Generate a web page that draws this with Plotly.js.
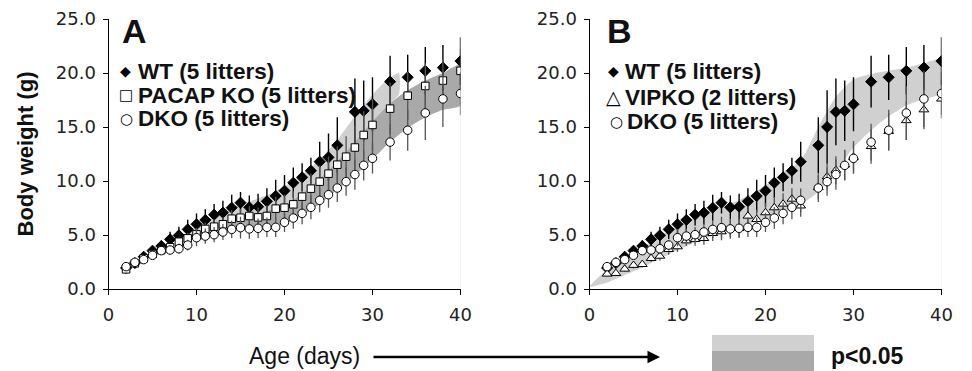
<!DOCTYPE html>
<html><head><meta charset="utf-8">
<script src="https://cdn.plot.ly/plotly-3.0.1.min.js"></script>
<style>html,body{margin:0;padding:0;background:#fff}#chart{width:972px;height:371px}</style>
</head><body><div id="chart"></div>
<script>
// ---------------- DATA ----------------
const days = [2,3,4,5,6,7,8,9,10,11,12,13,14,15,16,17,18,19,20,21,22,23,24,25,26,27,28,29,30,32,34,36,38,40];

const wt      = [1.95,2.4,2.99,3.55,3.98,4.6,4.97,5.52,5.99,6.39,6.88,7.07,7.53,7.99,7.56,7.62,8.12,8.61,9.1,9.84,10.34,10.95,11.79,12.19,13.3,15.0,16.4,16.5,17.1,19.2,19.6,20.2,20.5,21.1];
const wtErr   = [0.2,0.25,0.3,0.4,0.5,0.7,0.8,0.9,1.0,1.0,1.0,1.1,1.2,1.0,1.1,1.2,1.2,1.5,1.45,1.4,1.3,1.2,1.85,2.2,2.6,3.4,3.1,2.8,2.5,2.4,2.1,2.2,2.1,2.2];

const pacap    = [1.82,2.38,2.84,3.24,3.6,3.86,4.38,4.69,5.06,5.56,5.77,5.99,6.51,6.6,6.76,6.63,6.76,7.44,7.53,7.84,8.55,9.29,9.94,10.68,11.51,12.25,13.1,14.26,15.19,16.7,17.9,18.8,19.3,20.2];
const pacapErr = [0.15,0.2,0.25,0.3,0.35,0.4,0.45,0.5,0.6,0.6,0.7,0.7,0.8,0.8,0.9,0.9,1.0,1.1,1.2,1.2,1.3,1.4,1.5,1.6,1.7,1.9,2.0,2.2,2.4,2.4,2.2,2.1,2.0,2.0];

const dko    = [2.07,2.47,2.72,3.12,3.55,3.61,3.73,4.07,4.75,4.9,5.03,5.28,5.52,5.68,5.56,5.62,5.71,5.71,6.17,6.57,7.0,7.56,8.21,8.73,9.35,9.94,10.6,11.45,12.1,13.6,14.7,16.3,17.6,18.1];
const dkoErr = [0.2,0.2,0.25,0.3,0.35,0.4,0.45,0.5,0.8,0.7,0.7,0.75,0.8,1.0,0.9,0.9,0.9,0.9,0.9,1.0,1.0,1.1,1.1,1.2,1.3,1.3,1.4,1.4,1.4,1.7,1.9,2.5,2.6,2.0];

const vip    = [1.39,1.45,1.85,2.2,2.28,2.84,3.05,3.67,3.92,4.47,4.6,4.69,5.15,5.31,5.62,5.62,6.76,6.45,7.07,7.53,7.87,8.33,7.7,null,9.4,10.4,11.0,11.5,12.2,13.2,14.6,15.6,16.6,17.6];
const vipErr = [0.2,0.2,0.25,0.3,0.3,0.35,0.4,0.5,0.5,0.5,0.6,0.6,0.7,0.8,0.8,0.8,0.9,0.9,0.9,1.0,1.0,1.0,1.0,0,1.1,1.2,1.3,1.4,1.5,1.6,1.7,1.8,1.8,1.8];

// days not measured in each panel
const missingA = [27];
const missingB = [25];

// significance bands (p<0.05)
const bandALightX  = [8,10,12,14,16,18,20,22,24,26,28,30,32,33];
const bandALightHi = [4.6,5.8,6.8,7.6,8.1,8.7,9.5,10.6,12.0,13.8,16.0,18.0,19.6,20.0];
const bandALightLo = [4.0,4.8,5.5,6.2,6.7,7.1,7.6,8.6,9.9,11.5,13.3,15.3,17.2,18.0];

const bandADarkX  = [10,12,14,16,18,20,22,24,26,28,30,32,34,36,38,40];
const bandADarkHi = [5.2,5.9,6.5,6.9,7.2,7.8,8.8,10.2,11.8,13.6,15.5,17.2,18.4,19.3,20.0,20.8];
const bandADarkLo = [4.4,4.9,5.3,5.5,5.6,6.0,6.8,7.9,9.2,10.5,12.0,13.6,14.9,15.9,16.6,17.0];

const bandBX  = [0,2,4,6,8,10,12,14,16,18,20,22,24,26,28,30,32,34,36,38,40];
const bandBHi = [0.2,1.8,2.9,3.9,4.9,5.8,6.7,7.4,7.9,8.6,9.6,10.8,11.9,15.0,17.8,19.4,19.9,20.2,20.5,20.9,21.3];
const bandBLo = [0.2,0.6,1.3,2.0,2.8,3.6,4.3,4.9,5.4,6.0,6.4,7.0,7.8,9.0,10.9,13.1,14.7,16.0,17.0,17.6,18.1];

const xTicks = [0,10,20,30,40];
const yTicks = [0,5,10,15,20,25];

// ---------------- HELPERS ----------------
const W = 972, H = 371;
const px = v => v / W;
const py = v => 1 - v / H;
const drop = (arr, miss) => arr.map((v, i) => miss.includes(days[i]) ? null : v);

const LIGHT = '#d0d0d0', DARK = '#a9a9a9';

function band(x, hi, lo, color, xa, ya) {
  return {type:'scatter', mode:'lines', xaxis:xa, yaxis:ya,
    x: x.concat(x.slice().reverse()), y: hi.concat(lo.slice().reverse()),
    fill:'toself', fillcolor:color, line:{width:0, color:color, shape:'spline', smoothing:0.6},
    hoverinfo:'skip', showlegend:false};
}
function series(y, err, sym, fill, size, errColor, errThick, xa, ya, name) {
  return {type:'scatter', mode:'markers', name:name, xaxis:xa, yaxis:ya, x:days, y:y,
    marker:{symbol:sym, size:size, color:fill, line:{color:'#000', width:1}},
    error_y:{type:'data', array:err, visible:true, width:0, thickness:errThick, color:errColor},
    showlegend:false};
}

const traces = [
  band(bandALightX, bandALightHi, bandALightLo, LIGHT, 'x', 'y'),
  band(bandADarkX, bandADarkHi, bandADarkLo, DARK, 'x', 'y'),
  series(drop(wt, missingA), wtErr, 'diamond', '#000', 8.5, '#000', 1.4, 'x', 'y', 'WT'),
  series(pacap, pacapErr, 'square', '#fff', 7.5, '#555', 1.3, 'x', 'y', 'PACAP KO'),
  series(dko, dkoErr, 'circle', '#fff', 8.5, '#555', 1.3, 'x', 'y', 'DKO'),

  band(bandBX, bandBHi, bandBLo, LIGHT, 'x2', 'y2'),
  series(drop(wt, missingB), wtErr, 'diamond', '#000', 8.5, '#000', 1.4, 'x2', 'y2', 'WT'),
  series(vip, vipErr, 'triangle-up', '#fff', 8.5, '#555', 1.3, 'x2', 'y2', 'VIPKO'),
  series(drop(dko, missingB), dkoErr, 'circle', '#fff', 8.5, '#555', 1.3, 'x2', 'y2', 'DKO')
];

const tickFont = {family:'DejaVu Sans, Liberation Sans, sans-serif', size:18, color:'#222'};
function xAxis(dom, anchor) {
  return {domain:dom, anchor:anchor, range:[0,40], tickvals:xTicks, ticktext:xTicks.map(String),
    ticks:'outside', ticklen:5, tickcolor:'#000', tickwidth:1, showline:true, linecolor:'#000', linewidth:1,
    showgrid:false, zeroline:false, tickfont:tickFont, ticklabelstandoff:4, fixedrange:true};
}
function yAxis(anchor, withTitle) {
  const a = {domain:[py(289), py(19)], anchor:anchor, range:[0,25], tickvals:yTicks, tickformat:'.1f',
    ticks:'outside', ticklen:5, tickcolor:'#000', tickwidth:1, showline:true, linecolor:'#000', linewidth:1,
    showgrid:false, zeroline:false, tickfont:tickFont, ticklabelstandoff:3, fixedrange:true};
  if (withTitle) a.title = {text:'<b>Body weight (g)</b>', font:{family:'Liberation Sans, Arial, sans-serif', size:22, color:'#111'}, standoff:16};
  return a;
}

const legFont = {family:'Liberation Sans, Arial, sans-serif', size:22.5, color:'#111'};
const symFont = s => ({family:'DejaVu Sans, sans-serif', size:s, color:'#000'});
function ann(text, x, y, font, xanchor) {
  return {text:text, x:px(x), y:py(y), xref:'paper', yref:'paper', xanchor:xanchor||'left', yanchor:'middle', showarrow:false, font:font};
}

const annotations = [
  ann('<b>A</b>', 120, 31, {family:'Liberation Sans, Arial, sans-serif', size:34, color:'#111'}),
  ann('<b>B</b>', 605, 31, {family:'Liberation Sans, Arial, sans-serif', size:34, color:'#111'}),

  ann('◆', 125, 71, symFont(14), 'center'),
  ann('<b>WT (5 litters)</b>', 136, 71, legFont),
  ann('□', 126, 95, symFont(15), 'center'),
  ann('<b>PACAP KO (5 litters)</b>', 136, 95, legFont),
  ann('○', 126, 119, symFont(15), 'center'),
  ann('<b>DKO (5 litters)</b>', 136, 119, legFont),

  ann('◆', 613, 71, symFont(14), 'center'),
  ann('<b>WT (5 litters)</b>', 623, 71, legFont),
  ann('△', 613, 97, symFont(19), 'center'),
  ann('<b>VIPKO (2 litters)</b>', 623, 97, legFont),
  ann('○', 616, 122, symFont(15), 'center'),
  ann('<b>DKO (5 litters)</b>', 625, 122, legFont),

  ann('Age (days)', 304, 356, {family:'Liberation Sans, Arial, sans-serif', size:23, color:'#111'}, 'center'),
  ann('<b>p&lt;0.05</b>', 829, 356, {family:'Liberation Sans, Arial, sans-serif', size:23, color:'#111'}),
  {x:px(660), y:py(357), xref:'paper', yref:'paper', ax:px(372), ay:py(357), axref:'paper', ayref:'paper',
   text:'', showarrow:true, arrowhead:2, arrowsize:1, arrowwidth:2.5, arrowcolor:'#000'}
];

const shapes = [
  {type:'rect', xref:'paper', yref:'paper', x0:px(712), x1:px(814), y0:py(351), y1:py(335), fillcolor:LIGHT, line:{width:0}},
  {type:'rect', xref:'paper', yref:'paper', x0:px(712), x1:px(814), y0:py(371), y1:py(351), fillcolor:DARK, line:{width:0}},
  {type:'line', xref:'x', yref:'y', x0:40, x1:40, y0:0, y1:16.9, line:{color:'#ececec', width:1}, layer:'below'},
  {type:'line', xref:'x2', yref:'y2', x0:40, x1:40, y0:0, y1:18, line:{color:'#ececec', width:1}, layer:'below'}
];

const layout = {
  width:W, height:H, margin:{l:0, r:0, t:0, b:0}, paper_bgcolor:'#fff', plot_bgcolor:'rgba(0,0,0,0)',
  showlegend:false,
  xaxis: xAxis([px(108.5), px(460.5)], 'y'),
  yaxis: yAxis('x', true),
  xaxis2: xAxis([px(589.5), px(941.5)], 'y2'),
  yaxis2: yAxis('x2', false),
  annotations: annotations, shapes: shapes
};

Plotly.newPlot('chart', traces, layout, {staticPlot:true, displayModeBar:false});
</script></body></html>
